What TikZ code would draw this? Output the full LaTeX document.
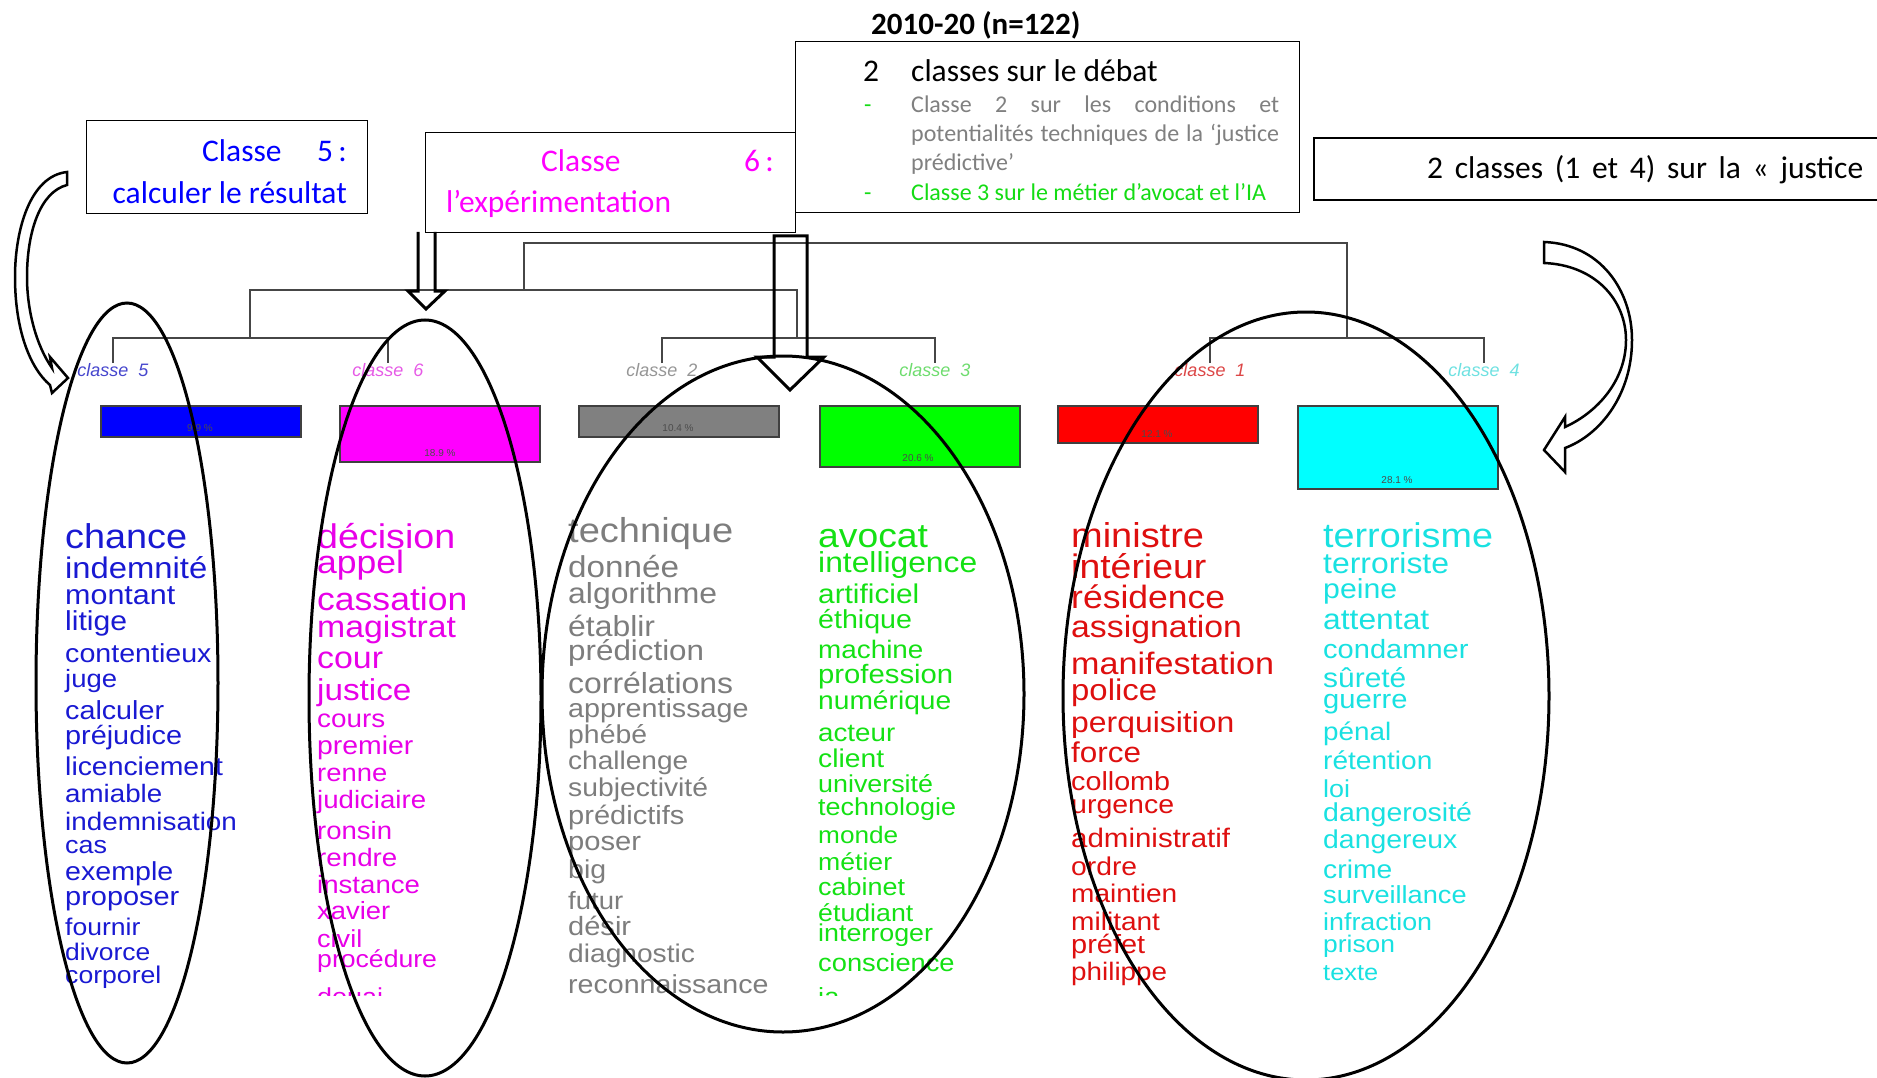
\documentclass[tikz,border=0pt]{standalone}
\usepackage{fontspec}
\setmainfont{Carlito}
\newfontfamily\cloudfont{Liberation Sans}
\usepackage{graphicx}
\definecolor{tblue}{RGB}{0,0,255}
\definecolor{tmag}{RGB}{255,0,255}
\definecolor{tgrey}{RGB}{128,128,128}
\definecolor{tgreen}{RGB}{20,220,20}
\definecolor{wblue}{RGB}{25,25,210}
\definecolor{wmag}{RGB}{232,0,232}
\definecolor{wgrey}{RGB}{125,125,125}
\definecolor{wgreen}{RGB}{20,225,20}
\definecolor{wred}{RGB}{222,15,15}
\definecolor{wcyan}{RGB}{25,225,225}
\definecolor{lblue}{RGB}{70,70,205}
\definecolor{lmag}{RGB}{230,90,230}
\definecolor{lgrey}{RGB}{150,150,150}
\definecolor{lgreen}{RGB}{110,220,110}
\definecolor{lred}{RGB}{220,70,70}
\definecolor{lcyan}{RGB}{110,225,225}
\definecolor{dendro}{RGB}{70,70,70}
\definecolor{barblue}{RGB}{0,0,255}
\definecolor{barmag}{RGB}{255,0,255}
\definecolor{bargrey}{RGB}{128,128,128}
\definecolor{bargreen}{RGB}{0,255,0}
\definecolor{barred}{RGB}{255,0,0}
\definecolor{barcyan}{RGB}{0,255,255}
\newcommand\cloudword[6]{\node[cword,text=#2] (#1) at (#4,#5) {\fontsize{#3pt}{#3pt}\selectfont\scalebox{1.1}[1]{#6}};}
\begin{document}
\begin{tikzpicture}[x=1pt,y=-1pt,
  cword/.style={anchor=base west,inner sep=0pt,font=\cloudfont},
  boxtext/.style={inner sep=0pt,font=\fontsize{31.5pt}{36pt}\selectfont},
  smalltext/.style={inner sep=0pt,anchor=base west,font=\fontsize{24pt}{28pt}\selectfont},
  framebox/.style={draw=black,line width=1.3pt,fill=white,inner sep=0pt,anchor=north west},
  classlab/.style={inner sep=0pt,anchor=base,font=\cloudfont\itshape\fontsize{18pt}{21pt}\selectfont},
  bar/.style={draw=black!75,line width=1.5pt,inner sep=0pt,anchor=north west,minimum width=200pt},
  pct/.style={inner sep=0pt,anchor=base,text=black!70,font=\cloudfont\fontsize{10pt}{12pt}\selectfont},
  tree/.style={draw=dendro,line width=2pt},
  oval/.style={draw=black,line width=3pt},
  blockarrow/.style={draw=black,line width=3pt,line join=miter},
  curvearrow/.style={draw=black,line width=2.5pt,line join=miter}]
\useasboundingbox (0,0) rectangle (1877,1078);

% ---------- title and boxes ----------
\node[boxtext,anchor=base west,font=\bfseries\fontsize{31pt}{36pt}\selectfont] (title) at (871,35) {2010-20 (n=122)};

\node[framebox,minimum width=281pt,minimum height=93pt] (box5) at (86,120) {};
\node[boxtext,anchor=base west,text=tblue] (b5a) at (202,162) {Classe};
\node[boxtext,anchor=base east,text=tblue] (b5b) at (347,162) {5\,:};
\node[boxtext,anchor=base east,text=tblue] (b5c) at (347,204) {calculer le résultat};

\node[framebox,minimum width=504pt,minimum height=171pt] (box23) at (795,41) {};
\node[boxtext,anchor=base west] (d1) at (863,82) {2};
\node[boxtext,anchor=base west] (d2) at (911,82) {classes sur le débat};
\node[smalltext,text=tgreen] (dash1) at (864,113) {-};
\node[smalltext,text=tgreen] (dash2) at (864,201) {-};
\node[smalltext,text=tgrey] (g2a) at (911,113) {\makebox[368pt][s]{Classe 2 sur les conditions et}};
\node[smalltext,text=tgrey] (g2b) at (911,142) {\makebox[368pt][s]{potentialités techniques de la ‘justice}};
\node[smalltext,text=tgrey] (g2c) at (911,171) {prédictive’};
\node[smalltext,text=tgreen] (g3a) at (911,201) {Classe 3 sur le métier d’avocat et l’IA};

\node[framebox,minimum width=370pt,minimum height=100pt] (box6) at (425,132) {};
\node[boxtext,anchor=base west,text=tmag] (b6a) at (541,172) {Classe};
\node[boxtext,anchor=base east,text=tmag] (b6b) at (774,172) {6\,:};
\node[boxtext,anchor=base west,text=tmag] (b6c) at (446,213) {l’expérimentation};

\coordinate (rb1) at (1890,138);
\coordinate (rb2) at (1314,138);
\coordinate (rb3) at (1314,200);
\coordinate (rb4) at (1890,200);
\draw[line width=1.3pt] (rb1) -- (rb2) -- (rb3) -- (rb4);
\node[boxtext,anchor=base west] (b14) at (1427,179) {\makebox[436pt][s]{2 classes (1 et 4) sur la « justice}};

% ---------- dendrogram ----------
\coordinate (top1) at (524,243);
\coordinate (top2) at (1347,243);
\coordinate (mid1) at (524,290);
\coordinate (a1) at (250,290);
\coordinate (a2) at (797,290);
\coordinate (a1d) at (250,338);
\coordinate (a2d) at (797,338);
\coordinate (top2d) at (1347,338);
\coordinate (k5) at (113,338);  \coordinate (k5d) at (113,363);
\coordinate (k6) at (388,338);  \coordinate (k6d) at (388,363);
\coordinate (k2) at (662,338);  \coordinate (k2d) at (662,363);
\coordinate (k3) at (935,338);  \coordinate (k3d) at (935,363);
\coordinate (k1) at (1210,338); \coordinate (k1d) at (1210,363);
\coordinate (k4) at (1484,338); \coordinate (k4d) at (1484,363);
\draw[tree] (mid1) -- (top1) -- (top2) -- (top2d);
\draw[tree] (a1d) -- (a1) -- (a2) -- (a2d);
\draw[tree] (k5d) -- (k5) -- (k6) -- (k6d);
\draw[tree] (k2d) -- (k2) -- (k3) -- (k3d);
\draw[tree] (k1d) -- (k1) -- (k4) -- (k4d);

\node[classlab,text=lblue] (lab5) at (113,376) {classe~~5};
\node[classlab,text=lmag] (lab6) at (388,376) {classe~~6};
\node[classlab,text=lgrey] (lab2) at (662,376) {classe~~2};
\node[classlab,text=lgreen] (lab3) at (935,376) {classe~~3};
\node[classlab,text=lred] (lab1) at (1210,376) {classe~~1};
\node[classlab,text=lcyan] (lab4) at (1484,376) {classe~~4};

% ---------- bars ----------
\node[bar,fill=barblue,minimum height=31pt] (bar5) at (100,405) {};
\node[bar,fill=barmag,minimum height=56pt] (bar6) at (339,405) {};
\node[bar,fill=bargrey,minimum height=31pt] (bar2) at (578,405) {};
\node[bar,fill=bargreen,minimum height=61pt] (bar3) at (819,405) {};
\node[bar,fill=barred,minimum height=37pt] (bar1) at (1057,405) {};
\node[bar,fill=barcyan,minimum height=83pt] (bar4) at (1297,405) {};
\node[pct] (p5) at (200,431) {9.9 \%};
\node[pct] (p6) at (440,456) {18.9 \%};
\node[pct] (p2) at (678,431) {10.4 \%};
\node[pct] (p3) at (918,461) {20.6 \%};
\node[pct] (p1) at (1157,437) {12.1 \%};
\node[pct] (p4) at (1397,483) {28.1 \%};

% ---------- word clouds ----------
\begin{scope}
\clip (0,0) rectangle (1877,995);
\cloudword{b1}{wblue}{34.4}{65}{548}{chance}
\cloudword{b2}{wblue}{29.8}{65}{578}{indemnité}
\cloudword{b3}{wblue}{27.7}{65}{604}{montant}
\cloudword{b4}{wblue}{27.4}{65}{630}{litige}
\cloudword{b5}{wblue}{26.0}{65}{662}{contentieux}
\cloudword{b6}{wblue}{25.0}{65}{687}{juge}
\cloudword{b7}{wblue}{26.1}{65}{719}{calculer}
\cloudword{b8}{wblue}{26.2}{65}{744}{préjudice}
\cloudword{b9}{wblue}{25.8}{65}{775}{licenciement}
\cloudword{b10}{wblue}{25.2}{65}{802}{amiable}
\cloudword{b11}{wblue}{25.3}{65}{830}{indemnisation}
\cloudword{b12}{wblue}{24.5}{65}{853}{cas}
\cloudword{b13}{wblue}{26.0}{65}{880}{exemple}
\cloudword{b14}{wblue}{26.3}{65}{905}{proposer}
\cloudword{b15}{wblue}{24.1}{65}{935}{fournir}
\cloudword{b16}{wblue}{24.0}{65}{960}{divorce}
\cloudword{b17}{wblue}{24.2}{65}{983}{corporel}

\cloudword{m1}{wmag}{34.2}{317}{548}{décision}
\cloudword{m2}{wmag}{32.3}{317}{573}{appel}
\cloudword{m3}{wmag}{32.3}{317}{610}{cassation}
\cloudword{m4}{wmag}{30.7}{317}{637}{magistrat}
\cloudword{m5}{wmag}{30.8}{317}{668}{cour}
\cloudword{m6}{wmag}{30.2}{317}{700}{justice}
\cloudword{m7}{wmag}{25.3}{317}{727}{cours}
\cloudword{m8}{wmag}{25.8}{317}{754}{premier}
\cloudword{m9}{wmag}{24.9}{317}{781}{renne}
\cloudword{m10}{wmag}{25.1}{317}{808}{judiciaire}
\cloudword{m11}{wmag}{25.0}{317}{839}{ronsin}
\cloudword{m12}{wmag}{25.2}{317}{866}{rendre}
\cloudword{m13}{wmag}{25.1}{317}{893}{instance}
\cloudword{m14}{wmag}{24.9}{317}{919}{xavier}
\cloudword{m15}{wmag}{24.6}{317}{947}{civil}
\cloudword{m16}{wmag}{24.2}{317}{967}{procédure}
\cloudword{m17}{wmag}{24.5}{317}{1005}{douai}

\cloudword{g1}{wgrey}{34.6}{568}{542}{technique}
\cloudword{g2}{wgrey}{30.2}{568}{577}{donnée}
\cloudword{g3}{wgrey}{29.0}{568}{603}{algorithme}
\cloudword{g4}{wgrey}{29.0}{568}{636}{établir}
\cloudword{g5}{wgrey}{28.5}{568}{660}{prédiction}
\cloudword{g6}{wgrey}{29.0}{568}{693}{corrélations}
\cloudword{g7}{wgrey}{26.1}{568}{717}{apprentissage}
\cloudword{g8}{wgrey}{25.8}{568}{743}{phébé}
\cloudword{g9}{wgrey}{25.5}{568}{769}{challenge}
\cloudword{g10}{wgrey}{25.7}{568}{796}{subjectivité}
\cloudword{g11}{wgrey}{26.4}{568}{824}{prédictifs}
\cloudword{g12}{wgrey}{26.5}{568}{850}{poser}
\cloudword{g13}{wgrey}{25.9}{568}{878}{big}
\cloudword{g14}{wgrey}{25.0}{568}{909}{futur}
\cloudword{g15}{wgrey}{26.4}{568}{935}{désir}
\cloudword{g16}{wgrey}{25.6}{568}{962}{diagnostic}
\cloudword{g17}{wgrey}{26.0}{568}{993}{reconnaissance}

\cloudword{v1}{wgreen}{33.9}{818}{547}{avocat}
\cloudword{v2}{wgreen}{28.9}{818}{572}{intelligence}
\cloudword{v3}{wgreen}{27.1}{818}{603}{artificiel}
\cloudword{v4}{wgreen}{26.0}{818}{628}{éthique}
\cloudword{v5}{wgreen}{25.3}{818}{658}{machine}
\cloudword{v6}{wgreen}{26.6}{818}{683}{profession}
\cloudword{v7}{wgreen}{25.6}{818}{709}{numérique}
\cloudword{v8}{wgreen}{25.2}{818}{741}{acteur}
\cloudword{v9}{wgreen}{25.7}{818}{767}{client}
\cloudword{v10}{wgreen}{24.4}{818}{792}{université}
\cloudword{v11}{wgreen}{24.5}{818}{815}{technologie}
\cloudword{v12}{wgreen}{23.8}{818}{843}{monde}
\cloudword{v13}{wgreen}{24.2}{818}{870}{métier}
\cloudword{v14}{wgreen}{24.5}{818}{895}{cabinet}
\cloudword{v15}{wgreen}{24.3}{818}{921}{étudiant}
\cloudword{v16}{wgreen}{24.4}{818}{941}{interroger}
\cloudword{v17}{wgreen}{24.8}{818}{971}{conscience}
\cloudword{v18}{wgreen}{24.8}{818}{1005}{ia}

\cloudword{r1}{wred}{34.5}{1071}{547}{ministre}
\cloudword{r2}{wred}{34.0}{1071}{578}{intérieur}
\cloudword{r3}{wred}{32.3}{1071}{608}{résidence}
\cloudword{r4}{wred}{30.7}{1071}{637}{assignation}
\cloudword{r5}{wred}{31.0}{1071}{674}{manifestation}
\cloudword{r6}{wred}{29.9}{1071}{700}{police}
\cloudword{r7}{wred}{29.0}{1071}{732}{perquisition}
\cloudword{r8}{wred}{28.6}{1071}{762}{force}
\cloudword{r9}{wred}{26.1}{1071}{790}{collomb}
\cloudword{r10}{wred}{25.9}{1071}{813}{urgence}
\cloudword{r11}{wred}{26.8}{1071}{847}{administratif}
\cloudword{r12}{wred}{25.7}{1071}{875}{ordre}
\cloudword{r13}{wred}{25.5}{1071}{902}{maintien}
\cloudword{r14}{wred}{25.5}{1071}{930}{militant}
\cloudword{r15}{wred}{26.3}{1071}{953}{préfet}
\cloudword{r16}{wred}{25.3}{1071}{980}{philippe}

\cloudword{c1}{wcyan}{34.3}{1323}{547}{terrorisme}
\cloudword{c2}{wcyan}{29.0}{1323}{573}{terroriste}
\cloudword{c3}{wcyan}{27.5}{1323}{598}{peine}
\cloudword{c4}{wcyan}{28.9}{1323}{629}{attentat}
\cloudword{c5}{wcyan}{26.4}{1323}{658}{condamner}
\cloudword{c6}{wcyan}{27.2}{1323}{687}{sûreté}
\cloudword{c7}{wcyan}{26.5}{1323}{708}{guerre}
\cloudword{c8}{wcyan}{25.3}{1323}{740}{pénal}
\cloudword{c9}{wcyan}{25.5}{1323}{769}{rétention}
\cloudword{c10}{wcyan}{24.5}{1323}{797}{loi}
\cloudword{c11}{wcyan}{25.9}{1323}{821}{dangerosité}
\cloudword{c12}{wcyan}{25.8}{1323}{848}{dangereux}
\cloudword{c13}{wcyan}{25.7}{1323}{878}{crime}
\cloudword{c14}{wcyan}{24.7}{1323}{903}{surveillance}
\cloudword{c15}{wcyan}{24.4}{1323}{930}{infraction}
\cloudword{c16}{wcyan}{24.0}{1323}{952}{prison}
\cloudword{c17}{wcyan}{23.1}{1323}{980}{texte}
\end{scope}

% ---------- ellipses ----------
\draw[oval] (127,683) ellipse [x radius=91pt, y radius=380pt];
\draw[oval] (425,698) ellipse [x radius=116pt, y radius=378pt];
\draw[oval] (783,694) ellipse [x radius=241pt, y radius=338pt];
\draw[oval] (1306,696) ellipse [x radius=243pt, y radius=384pt];

% ---------- block arrows ----------
\draw[blockarrow] (418,232) -- (418,291) -- (408,291) -- (426,309) -- (445,291) -- (435,291) -- (435,232);
\draw[blockarrow] (774,236) -- (774,357) -- (757,357) -- (790,390) -- (824,357) -- (807,357) -- (807,236) -- cycle;

% ---------- curved arrows ----------
\draw[curvearrow] (67,172) .. controls (30,176) and (15,230) .. (15,277)
  .. controls (15,330) and (30,368) .. (50,385) -- (52,393) -- (68,378) -- (50,357) -- (52,368)
  .. controls (36,345) and (27,310) .. (27,277) .. controls (27,232) and (40,192) .. (67,185) -- cycle;
\draw[curvearrow] (1544,242) .. controls (1600,244) and (1632,290) .. (1632,340)
  .. controls (1632,395) and (1600,435) .. (1565,448) -- (1565,472) -- (1544,450) -- (1565,417) -- (1565,427)
  .. controls (1598,412) and (1626,380) .. (1626,340) .. controls (1626,300) and (1595,265) .. (1544,263) -- cycle;
\end{tikzpicture}
\end{document}
